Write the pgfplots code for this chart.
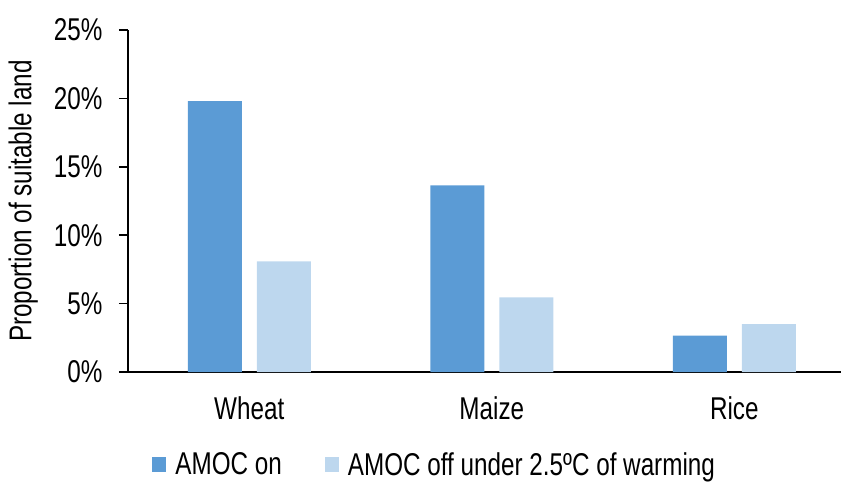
\documentclass[border=0pt]{standalone}
\usepackage{fontspec}
\setmainfont{Liberation Sans}[FakeStretch=0.77]
\usepackage{pgfplots}
\pgfplotsset{compat=1.18}
\definecolor{darkb}{HTML}{5B9BD5}
\definecolor{lightb}{HTML}{BDD7EE}
\begin{document}
\begin{tikzpicture}
\useasboundingbox (-128bp,-111bp) rectangle (713bp,372bp);
\begin{axis}[
  at={(0,0)}, anchor=south west,
  scale only axis, width=713bp, height=342bp,
  font=\fontsize{31.5bp}{37bp}\selectfont,
  /pgf/number format/assume math mode=true,
  ymin=0, ymax=25, ytick={0,5,...,25},
  yticklabel={\pgfmathprintnumber{\tick}\%},
  xmin=-0.5, xmax=2.44,
  xtick={0,1,2}, xticklabels={Wheat,Maize,Rice},
  axis x line*=bottom, axis y line*=left,
  x axis line style={line width=2bp},
  y axis line style={line width=1.5bp},
  major tick length=9bp, tick align=outside,
  xtick style={draw=none},
  ytick style={line width=1.5bp, black},
  yticklabel style={xshift=-13bp},
  xticklabel style={yshift=-12bp},
  ylabel={Proportion of suitable land},
  ylabel style={at={(axis description cs:-0.147,0.5)}, anchor=center},
  ybar, bar width=54bp,
  legend columns=2,
  legend style={draw=none, at={(axis description cs:0.034,-0.27)}, anchor=west, inner sep=0pt,
    /tikz/every even column/.append style={column sep=34bp},
    nodes={inner xsep=9bp, inner ysep=0pt, anchor=west}},
  legend image code/.code={\fill[#1] (0bp,-7.5bp) rectangle (14bp,7.5bp);},
]
\addplot[fill=darkb, draw=none, bar shift=-34.5bp] coordinates {(0,19.8) (1,13.65) (2,2.65)};
\addplot[fill=lightb, draw=none, bar shift=34.5bp] coordinates {(0,8.08) (1,5.45) (2,3.5)};
\legend{AMOC on, AMOC off under 2.5ºC of warming}
\end{axis}
\end{tikzpicture}
\end{document}
